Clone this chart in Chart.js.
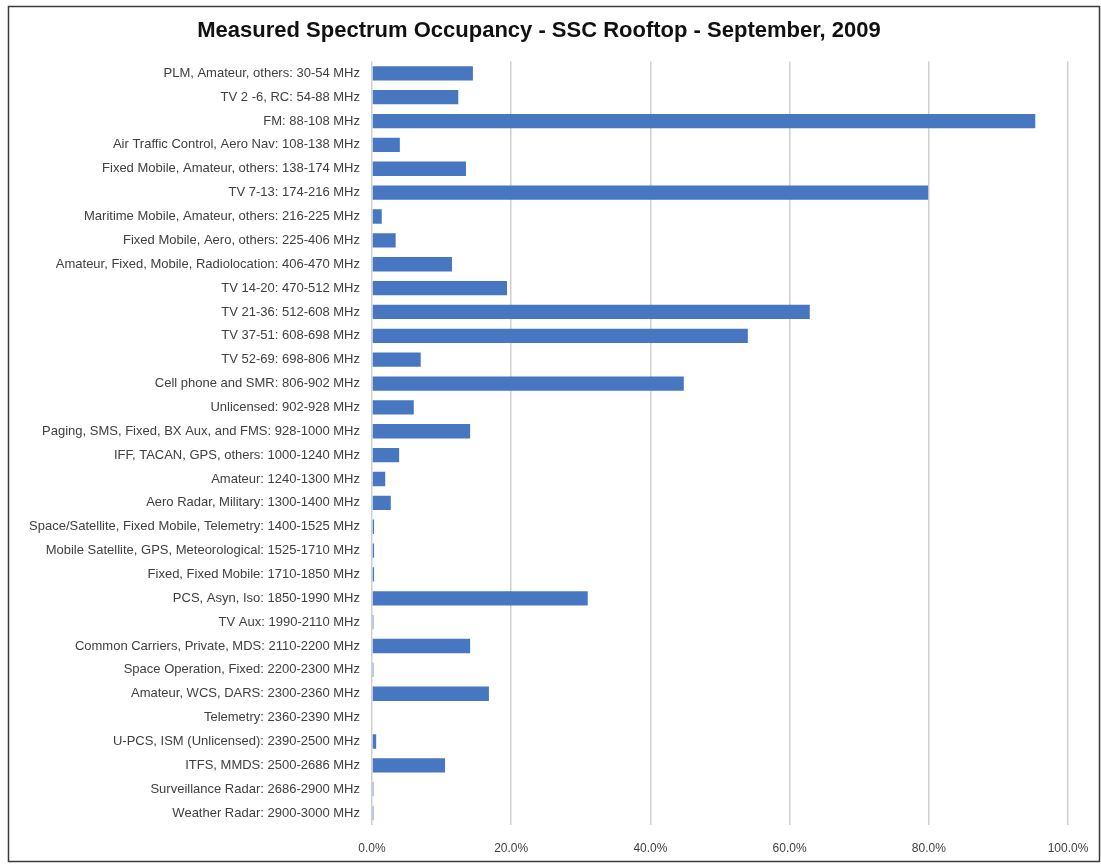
<!DOCTYPE html>
<html>
<head>
<meta charset="utf-8">
<script src="https://cdn.jsdelivr.net/npm/chart.js@4"></script>
<style>
  html, body { margin: 0; padding: 0; background: #fff; }
  #wrap { width: 1101px; height: 865px; }
</style>
</head>
<body>
<div id="wrap"><canvas id="occupancy"></canvas></div>
<script>
const bands = [
    'PLM, Amateur, others: 30-54 MHz',
    'TV 2 -6, RC: 54-88 MHz',
    'FM: 88-108 MHz',
    'Air Traffic Control, Aero Nav: 108-138 MHz',
    'Fixed Mobile, Amateur, others: 138-174 MHz',
    'TV 7-13: 174-216 MHz',
    'Maritime Mobile, Amateur, others: 216-225 MHz',
    'Fixed Mobile, Aero, others: 225-406 MHz',
    'Amateur, Fixed, Mobile, Radiolocation: 406-470 MHz',
    'TV 14-20: 470-512 MHz',
    'TV 21-36: 512-608 MHz',
    'TV 37-51: 608-698 MHz',
    'TV 52-69: 698-806 MHz',
    'Cell phone and SMR: 806-902 MHz',
    'Unlicensed: 902-928 MHz',
    'Paging, SMS, Fixed, BX Aux, and FMS: 928-1000 MHz',
    'IFF, TACAN, GPS, others: 1000-1240 MHz',
    'Amateur: 1240-1300 MHz',
    'Aero Radar, Military: 1300-1400 MHz',
    'Space/Satellite, Fixed Mobile, Telemetry: 1400-1525 MHz',
    'Mobile Satellite, GPS, Meteorological: 1525-1710 MHz',
    'Fixed, Fixed Mobile: 1710-1850 MHz',
    'PCS, Asyn, Iso: 1850-1990 MHz',
    'TV Aux: 1990-2110 MHz',
    'Common Carriers, Private, MDS: 2110-2200 MHz',
    'Space Operation, Fixed: 2200-2300 MHz',
    'Amateur, WCS, DARS: 2300-2360 MHz',
    'Telemetry: 2360-2390 MHz',
    'U-PCS, ISM (Unlicensed): 2390-2500 MHz',
    'ITFS, MMDS: 2500-2686 MHz',
    'Surveillance Radar: 2686-2900 MHz',
    'Weather Radar: 2900-3000 MHz'
];

// occupancy as a fraction (0..1)
const occupancy = [
    0.145, 0.124, 0.953, 0.040, 0.135, 0.799, 0.014, 0.034,
    0.115, 0.194, 0.629, 0.540, 0.070, 0.448, 0.060, 0.141,
    0.039, 0.019, 0.027, 0.003, 0.003, 0.003, 0.310, 0.002,
    0.141, 0.002, 0.168, 0.000, 0.006, 0.105, 0.002, 0.002
];

const xTicks = [0, 0.2, 0.4, 0.6, 0.8, 1.0];

const frame = {
    id: 'frame',
    afterDraw(chart) {
        const c = chart.ctx;
        c.save();
        c.strokeStyle = '#3a3a3a';
        c.lineWidth = 1.5;
        c.strokeRect(8.5, 6.5, 1091, 855);
        c.restore();
    }
};

const ctx = document.getElementById('occupancy').getContext('2d');
const chart = new Chart(ctx, {
    type: 'bar',
    data: {
        labels: bands,
        datasets: [{
            data: occupancy,
            backgroundColor: '#4677c0',
            borderColor: '#4677c0',
            borderWidth: 0,
            barPercentage: 0.6,
            categoryPercentage: 1.0
        }]
    },
    options: {
        indexAxis: 'y',
        responsive: true,
        maintainAspectRatio: false,
        animation: false,
        layout: {
            padding: { left: 10, right: 33, top: 0, bottom: 0 }
        },
        plugins: {
            title: {
                display: true,
                text: 'Measured Spectrum Occupancy - SSC Rooftop - September, 2009',
                color: '#111',
                font: { family: 'Liberation Sans', size: 22, weight: 'bold' },
                padding: { top: 18, bottom: 17 }
            },
            legend: { display: false },
            tooltip: { enabled: false }
        },
        scales: {
            x: {
                min: 0,
                max: 1,
                afterBuildTicks(scale) {
                    scale.ticks = xTicks.map(v => ({ value: v }));
                },
                afterFit(scale) {
                    scale.height = 40;
                    scale.paddingLeft = 0;
                    scale.paddingRight = 0;
                },
                grid: {
                    color: '#cfcfcf',
                    lineWidth: 1.5,
                    drawTicks: false
                },
                border: { display: false },
                ticks: {
                    padding: 16,
                    color: '#404040',
                    font: { family: 'Liberation Sans', size: 12 },
                    callback: v => (v * 100).toFixed(1) + '%'
                }
            },
            y: {
                afterFit(scale) {
                    scale.width = 362;
                    scale.paddingTop = 0;
                    scale.paddingBottom = 0;
                },
                grid: { display: false, drawTicks: false },
                border: { display: false },
                ticks: {
                    padding: 12,
                    autoSkip: false,
                    color: '#404040',
                    font: { family: 'Liberation Sans', size: 13 }
                }
            }
        }
    },
    plugins: [frame]
});
</script>
</body>
</html>
